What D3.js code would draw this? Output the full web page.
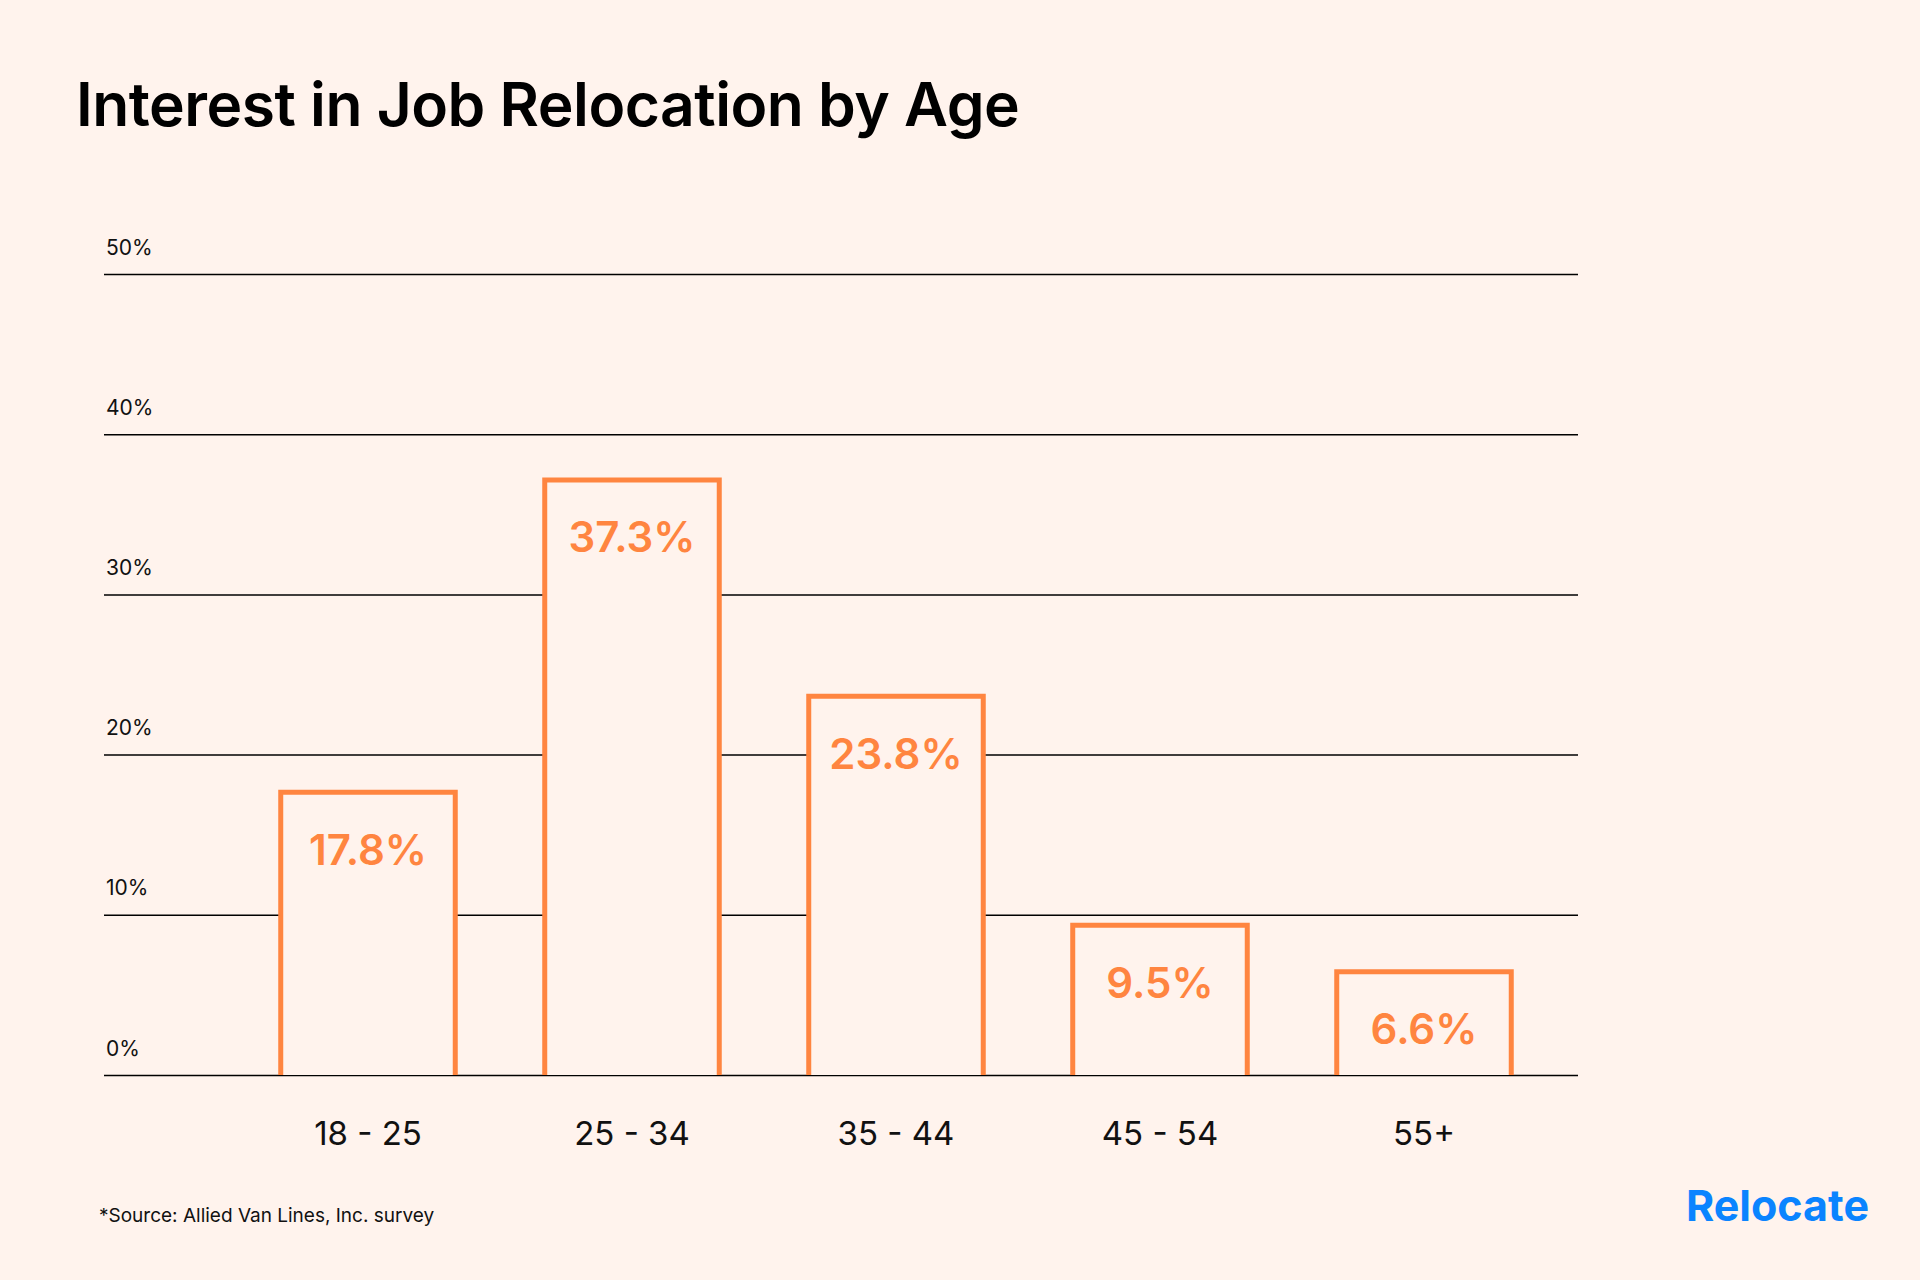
<!DOCTYPE html>
<html>
<head>
<meta charset="utf-8">
<script src="https://cdn.jsdelivr.net/npm/d3@7"></script>
<style>
  html, body { margin: 0; padding: 0; background: #fff3ed; }
  svg { display: block; font-family: Inter, "Noto Sans", sans-serif; }
</style>
</head>
<body>
<svg></svg>
<script>
let width = 1920;
let height = 1280;

// data
const ageGroups = ["18 - 25", "25 - 34", "35 - 44", "45 - 54", "55+"];
const shares = [17.8, 37.3, 23.8, 9.5, 6.6];
const yTicks = [0, 10, 20, 30, 40, 50];

const orange = "#ff8540";
const bg = "#fff3ed";

var svg = d3.select("svg")
  .attr("width", width)
  .attr("height", height);

svg.append("rect")
  .attr("width", width)
  .attr("height", height)
  .attr("fill", bg);

svg.append("text")
  .attr("x", 76)
  .attr("y", 126)
  .attr("font-size", 60.5)
  .attr("font-weight", 600)
  .attr("letter-spacing", -0.5)
  .attr("fill", "#000")
  .text("Interest in Job Relocation by Age");

let yScale = d3.scaleLinear()
  .domain([0, 50])
  .range([1075, 274]);

let xScale = d3.scaleBand()
  .domain(ageGroups)
  .range([236, 1556])
  .paddingInner(0.32)
  .paddingOuter(0.16);

// gridlines + tick labels
let yAxis = d3.axisLeft(yScale)
  .tickValues(yTicks)
  .tickSize(-(1578 - 104))
  .tickFormat(d => d + "%");

let gy = svg.append("g")
  .attr("transform", "translate(104,0)")
  .call(yAxis);

gy.select(".domain").remove();
gy.selectAll(".tick line")
  .attr("stroke", "#000")
  .attr("stroke-width", 1.5);
gy.selectAll(".tick text")
  .attr("x", 2)
  .attr("dy", -20)
  .attr("text-anchor", "start")
  .attr("font-size", 21)
  .attr("font-family", "Inter, sans-serif")
  .attr("fill", "#111");

// bars: outline open at the bottom, sitting on the baseline
svg.selectAll(".bar")
  .data(ageGroups)
  .enter()
  .append("path")
  .attr("class", "bar")
  .attr("d", (d, i) => {
    let x0 = xScale(d) + 2.5;
    let x1 = xScale(d) + xScale.bandwidth() - 2.5;
    let yt = yScale(shares[i]) + 2.5;
    let yb = yScale(0);
    return "M" + x0 + "," + yb + "V" + yt + "H" + x1 + "V" + yb;
  })
  .attr("fill", bg)
  .attr("stroke", orange)
  .attr("stroke-width", 5);

// value labels
svg.selectAll(".val")
  .data(ageGroups)
  .enter()
  .append("text")
  .attr("class", "val")
  .attr("x", d => xScale(d) + xScale.bandwidth() / 2)
  .attr("y", (d, i) => yScale(shares[i]) + 75)
  .attr("text-anchor", "middle")
  .attr("font-size", 42)
  .attr("font-weight", 600)
  .attr("fill", orange)
  .text((d, i) => shares[i] + "%");

// category labels
let xAxis = d3.axisBottom(xScale).tickSize(0);
let gx = svg.append("g")
  .attr("transform", "translate(0,1075)")
  .call(xAxis);
gx.select(".domain").remove();
gx.selectAll(".tick text")
  .attr("y", 70)
  .attr("dy", 0)
  .attr("font-size", 33)
  .attr("font-family", "Inter, sans-serif")
  .attr("fill", "#111");

svg.append("text")
  .attr("x", 99)
  .attr("y", 1222)
  .attr("font-size", 19)
  .attr("fill", "#111")
  .text("*Source: Allied Van Lines, Inc. survey");

svg.append("text")
  .attr("x", 1869)
  .attr("y", 1221)
  .attr("text-anchor", "end")
  .attr("font-size", 43)
  .attr("font-weight", 700)
  .attr("fill", "#0a84ff")
  .text("Relocate");
</script>
</body>
</html>
